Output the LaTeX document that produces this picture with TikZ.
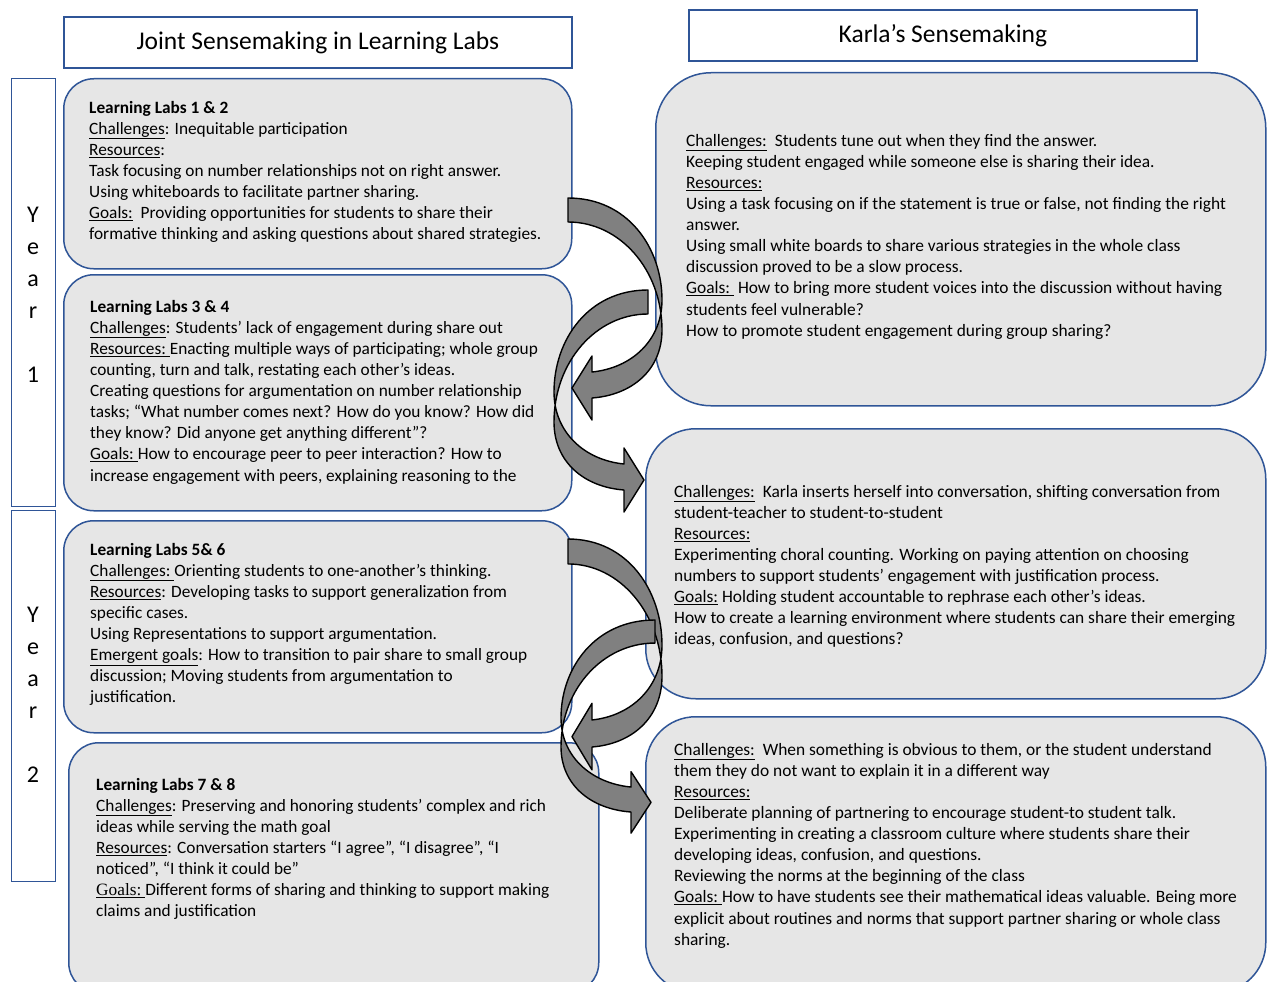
\documentclass[tikz,border=0pt]{standalone}
\usepackage{fontspec}
\setmainfont{Carlito}
\newfontfamily\timesfont{Liberation Serif}
\definecolor{boxblue}{RGB}{47,85,151}
\definecolor{boxfill}{RGB}{230,230,230}
\definecolor{arrowgray}{RGB}{128,128,128}
\newcommand{\uln}[1]{\underline{#1}}
\newcommand{\fl}{\rule{0pt}{14pt}}
\tikzset{
  curvarrow/.pic={
    \filldraw[fill=arrowgray, draw=black, line width=1.4pt, line join=round]
      (0,0) .. controls (60,0) and (94,50) .. (94,102)
      .. controls (94,142) and (64,170) .. (24,174)
      -- (24,158) -- (4,190) -- (24,222) -- (24,200)
      .. controls (64,197) and (94,172) .. (94,132)
      .. controls (94,72) and (52,24) .. (0,24) -- cycle;
  }
}
\begin{document}
\begin{tikzpicture}[x=1pt,y=-1pt,
  labbox/.style={draw=boxblue, fill=boxfill, line width=1.5pt, rounded corners=30pt, anchor=north west, inner sep=0pt},
  karlabox/.style={draw=boxblue, fill=boxfill, line width=1.5pt, rounded corners=50pt, anchor=north west, inner sep=0pt},
  titlebox/.style={draw=boxblue, fill=white, line width=1.8pt, anchor=north west, inner sep=0pt},
  yearbox/.style={draw=boxblue, line width=1.4pt, anchor=north west, inner sep=0pt, minimum width=44pt},
  ltext/.style={anchor=north west, align=left, inner sep=0pt, font=\fontsize{17.3}{21.1}\selectfont},
  rtext/.style={anchor=north west, align=left, inner sep=0pt, font=\fontsize{17.4}{21.1}\selectfont},
  ttext/.style={inner sep=0pt, font=\fontsize{25.5}{28}\selectfont},
  ytext/.style={anchor=north, align=center, inner sep=0pt, font=\fontsize{24}{32}\selectfont}
]
\useasboundingbox (0,0) rectangle (1269,982);
\clip (0,0) rectangle (1269,982);
\fill[white] (0,0) rectangle (1269,982);

% titles
\node[titlebox, minimum width=508pt, minimum height=51pt] (T1) at (63,16) {};
\node[ttext] (T1t) at (T1.center) {Joint Sensemaking in Learning Labs};
\node[titlebox, minimum width=508pt, minimum height=51pt] (T2) at (688,9) {};
\node[ttext] (T2t) at (T2.center) {Karla’s Sensemaking};

% year boxes
\node[yearbox, minimum height=428pt] (Y1) at (11,78) {};
\node[yearbox, minimum height=371pt] (Y2) at (11,510) {};
\node[ytext] (Y1t) at (33,202) {\rule{0pt}{20pt}Y\\e\\a\\r\\ \\1};
\node[ytext] (Y2t) at (33,602) {\rule{0pt}{20pt}Y\\e\\a\\r\\ \\2};

% left boxes
\node[labbox, minimum width=508pt, minimum height=190pt] (L1) at (63,78) {};
\node[labbox, minimum width=508pt, minimum height=236pt] (L2) at (63,274) {};
\node[labbox, minimum width=508pt, minimum height=212pt] (L3) at (63,520) {};
\node[labbox, minimum width=530pt, minimum height=250pt] (L4) at (68,742) {};

% right boxes
\node[karlabox, minimum width=610pt, minimum height=333pt, rounded corners=55pt] (R1) at (655,72) {};
\node[karlabox, minimum width=620pt, minimum height=270pt] (R2) at (645,428) {};
\node[karlabox, minimum width=620pt, minimum height=276pt] (R3) at (645,716) {};

% left texts
\node[ltext] (L1t) at (89,99) {\fl\textbf{Learning Labs 1 \& 2}\\
\uln{Challenges}: Inequitable participation\\
\uln{Resources}:\\
Task focusing on number relationships not on right answer.\\
Using whiteboards to facilitate partner sharing.\\
\uln{Goals:}\ \ Providing opportunities for students to share their\\
formative thinking and asking questions about shared strategies.};

\node[ltext] (L2t) at (90,298) {\fl\textbf{Learning Labs 3 \& 4}\\
\uln{Challenges}: Students’ lack of engagement during share out\\
\uln{Resources:\ }Enacting multiple ways of participating; whole group\\
counting, turn and talk, restating each other’s ideas.\\
Creating questions for argumentation on number relationship\\
tasks; “What number comes next? How do you know? How did\\
they know? Did anyone get anything different”?\\
\uln{Goals:\ }How to encourage peer to peer interaction? How to\\
increase engagement with peers, explaining reasoning to the};

\node[ltext] (L3t) at (90,541) {\fl\textbf{Learning Labs 5\& 6}\\
\uln{Challenges:\ }Orienting students to one-another’s thinking.\\
\uln{Resources}: Developing tasks to support generalization from\\
specific cases.\\
Using Representations to support argumentation.\\
\uln{Emergent goals}: How to transition to pair share to small group\\
discussion; Moving students from argumentation to\\
justification.};

\node[ltext] (L4t) at (96,776) {\fl\textbf{Learning Labs 7 \& 8}\\
\uln{Challenges}: Preserving and honoring students’ complex and rich\\
ideas while serving the math goal\\
\uln{Resources}: Conversation starters “I agree”, “I disagree”, “I\\
noticed”, “I think it could be”\\
\uln{{\timesfont Goals:}\ }Different forms of sharing and thinking to support making\\
claims and justification};

% right texts
\node[rtext] (R1t) at (686,132) {\fl\uln{Challenges:}\ \ Students tune out when they find the answer.\\
Keeping student engaged while someone else is sharing their idea.\\
\uln{Resources:}\\
Using a task focusing on if the statement is true or false, not finding the right\\
answer.\\
Using small white boards to share various strategies in the whole class\\
discussion proved to be a slow process.\\
\uln{Goals:\ }\ How to bring more student voices into the discussion without having\\
students feel vulnerable?\\
How to promote student engagement during group sharing?};

\node[rtext] (R2t) at (674,483) {\fl\uln{Challenges:}\ \ Karla inserts herself into conversation, shifting conversation from\\
student-teacher to student-to-student\\
\uln{Resources:}\\
Experimenting choral counting. Working on paying attention on choosing\\
numbers to support students’ engagement with justification process.\\
\uln{Goals:} Holding student accountable to rephrase each other’s ideas.\\
How to create a learning environment where students can share their emerging\\
ideas, confusion, and questions?};

\node[rtext] (R3t) at (674,741) {\fl\uln{Challenges:}\ \ When something is obvious to them, or the student understand\\
them they do not want to explain it in a different way\\
\uln{Resources:}\\
Deliberate planning of partnering to encourage student-to student talk.\\
Experimenting in creating a classroom culture where students share their\\
developing ideas, confusion, and questions.\\
Reviewing the norms at the beginning of the class\\
\uln{Goals:\ }How to have students see their mathematical ideas valuable. Being more\\
explicit about routines and norms that support partner sharing or whole class\\
sharing.};

% curved arrows
\coordinate (a1) at (568,198);
\coordinate (a2) at (648,290);
\coordinate (a3) at (568,539);
\coordinate (a4) at (655,620);
\pic at (a1) {curvarrow};
\pic[xscale=-1] at (a2) {curvarrow};
\pic[yscale=1.04] at (a3) {curvarrow};
\pic[xscale=-1, yscale=0.96] at (a4) {curvarrow};
\end{tikzpicture}
\end{document}
